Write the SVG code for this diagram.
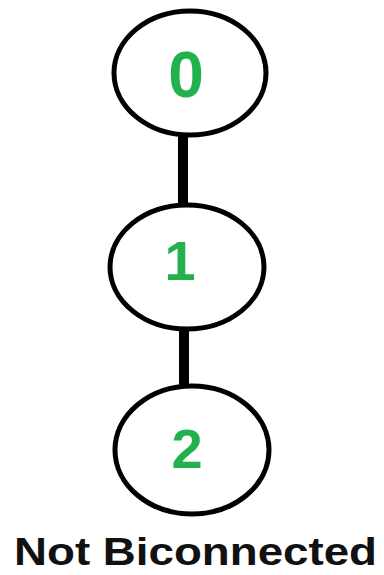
<svg xmlns="http://www.w3.org/2000/svg" width="384" height="575" viewBox="0 0 384 575">
<style>
.node{fill:#fff;stroke:#000;stroke-width:5}
.lbl{fill:#22b14c;font-family:"Liberation Sans",Arial,sans-serif;font-weight:bold;text-anchor:middle}
.edge{stroke:#000;stroke-width:10}
.cap{fill:#111;font-family:"Liberation Sans",Arial,sans-serif;font-weight:bold}
</style>
<rect width="384" height="575" fill="#fff"/>
<g id="edges">
<line class="edge" x1="183" y1="135" x2="183" y2="208"/>
<line class="edge" x1="184" y1="328" x2="184" y2="390"/>
</g>
<g id="node0">
<ellipse class="node" cx="190" cy="73" rx="76" ry="62"/>
<text class="lbl" x="186" y="97" font-size="64">0</text>
</g>
<g id="node1">
<ellipse class="node" cx="187" cy="267" rx="77" ry="62"/>
<text class="lbl" x="180" y="280" font-size="56">1</text>
</g>
<g id="node2">
<ellipse class="node" cx="192" cy="450" rx="77" ry="64"/>
<text class="lbl" x="187" y="468" font-size="56">2</text>
</g>
<text class="cap" x="14" y="565" font-size="38" textLength="363" lengthAdjust="spacingAndGlyphs">Not Biconnected</text>
</svg>
